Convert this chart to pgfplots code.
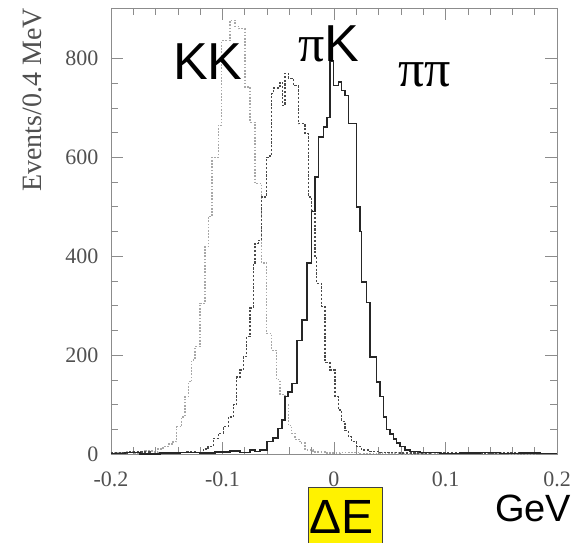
\documentclass[border=0pt]{standalone}
\usepackage{fontspec}
\setmainfont{Liberation Serif}
\newfontfamily\arial{Liberation Sans}
\usepackage{pgfplots}
\pgfplotsset{compat=1.18}
\definecolor{framegray}{HTML}{8C8C8C}
\definecolor{labelgray}{HTML}{505050}
\definecolor{kkgray}{HTML}{A8A8A8}
\definecolor{pikgray}{HTML}{4A4A4A}
\definecolor{pipigray}{HTML}{262626}

% KK (light dotted): left edge, events
\pgfplotstableread{
x y
-0.2000 3
-0.1874 5
-0.1785 2
-0.1695 6
-0.1632 4
-0.1578 10
-0.1534 15
-0.1489 20
-0.1444 25
-0.1411 55
-0.1366 75
-0.1336 116
-0.1307 146
-0.1276 190
-0.1247 217
-0.1202 305
-0.1157 419
-0.1127 480
-0.1094 600
-0.1038 665
-0.1007 836
-0.0933 877
-0.0888 865
-0.0858 860
-0.0798 742
-0.0753 671
-0.0709 547
-0.0648 386
-0.0604 244
-0.0559 210
-0.0514 150
-0.0484 120
-0.0439 100
-0.0410 58
-0.0379 42
-0.0350 30
-0.0305 22
-0.0260 8
-0.0188 4
-0.0081 2
0.0054 3
0.0233 1
0.0413 2
0.0592 0
0.0771 2
0.1040 1
0.1309 2
0.1578 0
0.1803 1
0.2000 1
}\tabKK

% piK (dark dashed)
\pgfplotstableread{
x y
-0.2000 2
-0.1830 4
-0.1650 1
-0.1470 3
-0.1336 5
-0.1247 3
-0.1172 10
-0.1130 15
-0.1083 32
-0.1038 42
-0.0993 55
-0.0948 75
-0.0903 100
-0.0872 156
-0.0843 170
-0.0813 197
-0.0783 237
-0.0753 295
-0.0724 386
-0.0709 426
-0.0679 432
-0.0648 520
-0.0604 600
-0.0574 607
-0.0559 729
-0.0544 740
-0.0484 752
-0.0462 705
-0.0439 770
-0.0409 760
-0.0365 745
-0.0320 668
-0.0260 648
-0.0230 520
-0.0200 493
-0.0170 400
-0.0155 345
-0.0110 298
-0.0081 185
-0.0036 170
0.0009 116
0.0039 89
0.0069 66
0.0099 48
0.0128 35
0.0159 25
0.0204 15
0.0248 8
0.0323 5
0.0413 3
0.0592 2
0.0861 3
0.1130 1
0.1399 2
0.1668 1
0.2000 1
}\tabPiK

% pipi (solid)
\pgfplotstableread{
x y
-0.2000 1
-0.1874 3
-0.1740 0
-0.1560 2
-0.1381 3
-0.1202 2
-0.1067 4
-0.0933 6
-0.0843 3
-0.0753 8
-0.0709 5
-0.0664 8
-0.0601 25
-0.0547 32
-0.0502 52
-0.0466 69
-0.0439 116
-0.0412 125
-0.0377 143
-0.0332 230
-0.0287 271
-0.0242 386
-0.0200 490
-0.0170 560
-0.0141 641
-0.0096 661
-0.0065 681
-0.0036 795
-0.0006 745
0.0039 752
0.0069 735
0.0099 725
0.0129 668
0.0159 668
0.0204 500
0.0233 450
0.0248 348
0.0293 306
0.0323 196
0.0383 146
0.0413 116
0.0442 75
0.0472 50
0.0502 40
0.0532 30
0.0562 22
0.0592 15
0.0637 8
0.0682 5
0.0771 3
0.0951 1
0.1130 2
0.1309 3
0.1489 1
0.1668 2
0.1847 1
0.2000 1
}\tabPiPi

\begin{document}
\begin{tikzpicture}
\useasboundingbox (-111pt,-89pt) rectangle (462pt,454pt);
\begin{axis}[
  scale only axis, width=446pt, height=446pt,
  xmin=-0.2, xmax=0.2, ymin=0, ymax=902,
  xtick={-0.2,-0.1,0,0.1,0.2}, ytick={0,200,400,600,800},
  minor x tick num=4, minor y tick num=3,
  tick align=inside,
  major tick length=12pt, minor tick length=7pt,
  axis line style={draw=framegray, line width=0.8pt},
  tick style={draw=framegray, line width=0.6pt},
  ticklabel style={font=\fontsize{22}{26}\selectfont, text=labelgray},
  /pgf/number format/assume math mode=true,
  xticklabel style={yshift=-14pt},
  yticklabel style={xshift=-9pt},
  clip=false,
]
\addplot[const plot mark left, draw=kkgray, line width=1.3pt, dash pattern=on 1.6pt off 1.6pt] table {\tabKK};
\addplot[const plot mark left, draw=pikgray, line width=1.3pt, dash pattern=on 2.2pt off 1.6pt] table {\tabPiK};
\addplot[const plot mark left, draw=pipigray, line width=1.5pt] table {\tabPiPi};
\end{axis}
\node[rotate=90, anchor=base east, inner sep=0pt, text=labelgray, font=\fontsize{28}{30}\selectfont] at (-69pt,446pt) {Events/0.4 MeV};
\node[anchor=base west, inner sep=0pt, font=\arial\fontsize{52}{52}\selectfont] at (62pt,374pt) {KK};
\node[anchor=base west, inner sep=0pt, font=\fontsize{52}{52}\selectfont] at (187pt,392pt) {π{\arial K}};
\node[anchor=base west, inner sep=0pt, font=\fontsize{52}{52}\selectfont] at (287pt,367pt) {ππ};
\draw[fill=yellow, draw=black!75, line width=0.6pt] (197pt,-33pt) rectangle (271pt,-100pt);
\node[anchor=base west, inner sep=0pt, font=\arial\fontsize{48}{48}\selectfont] at (198pt,-80pt) {ΔE};
\node[anchor=base west, inner sep=0pt, font=\arial\fontsize{38}{38}\selectfont] at (384pt,-68pt) {GeV};
\end{tikzpicture}
\end{document}
